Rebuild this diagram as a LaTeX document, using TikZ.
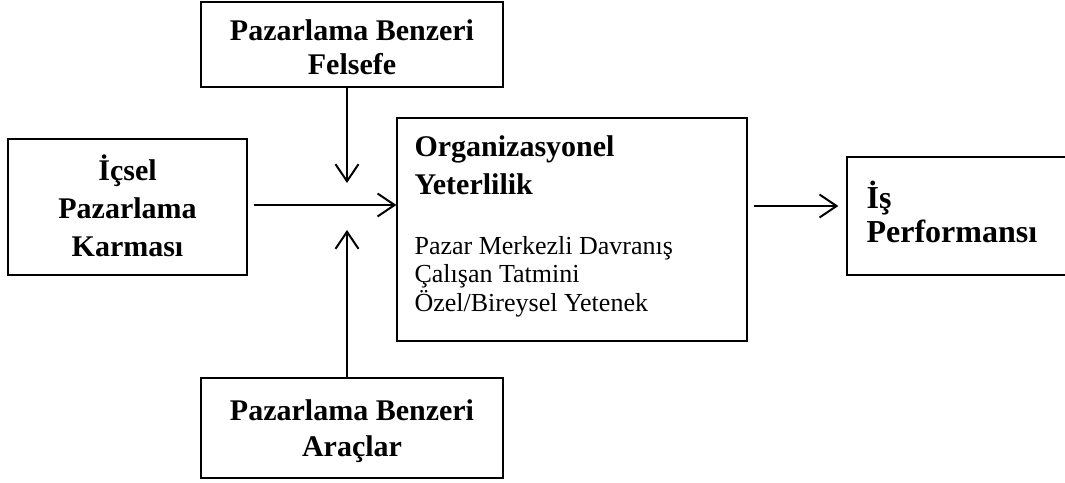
\documentclass[tikz,border=0pt]{standalone}
\usepackage{fontspec}
\setmainfont{Liberation Serif}
\usetikzlibrary{arrows.meta, positioning}

\tikzset{
  blok/.style={draw, line width=1.3pt, inner sep=0pt},
  baslik/.style={font=\fontsize{30}{38}\selectfont\bfseries, align=center, inner sep=0pt},
  ok/.style={line width=2pt, -{Straight Barb[length=17pt, width=23pt, line width=2pt]}}
}

\begin{document}
\begin{tikzpicture}[x=1pt, y=-1pt]
        \useasboundingbox (0,0) rectangle (1065,482);

        % Boxes
        \node[blok, minimum width=302pt, minimum height=85pt] (felsefe) at (352,44.5) {};
        \node[blok, minimum width=239pt, minimum height=136pt] (icsel) at (127.5,207) {};
        \node[blok, minimum width=350pt, minimum height=223pt] (yeterlilik) at (572,229.5) {};
        \node[blok, minimum width=302pt, minimum height=100pt] (araclar) at (352,428) {};
        \node[blok, minimum width=240pt, minimum height=118pt] (performans) at (967,216) {};

        % Box labels
        \node[baslik, font=\fontsize{30}{34}\selectfont\bfseries] (felsefeT) at ([yshift=-3pt]felsefe) {Pazarlama Benzeri\\Felsefe};
        \node[baslik] (icselT) at ([yshift=1pt]icsel) {İçsel\\Pazarlama\\Karması};
        \node[baslik, font=\fontsize{30}{36}\selectfont\bfseries] (araclarT) at ([yshift=-3pt]araclar) {Pazarlama Benzeri\\Araçlar};
        \node[baslik, align=left, anchor=base west] (yeterlilikT) at ([xshift=18pt, yshift=-77pt]yeterlilik.north west) {Organizasyonel\\Yeterlilik};
        \node[align=left, anchor=base west, inner sep=0pt, font=\fontsize{26}{28.5}\selectfont] (boyutlar) at ([xshift=18pt, yshift=-194pt]yeterlilik.north west) {Pazar Merkezli Davranış\\Çalışan Tatmini\\Özel/Bireysel Yetenek};
        \node[baslik, font=\fontsize{32}{34}\selectfont\bfseries, align=left, anchor=base west] (performansT) at ([xshift=20pt, yshift=-86pt]performans.north west) {İş\\Performansı};

        % Arrow ends
        \coordinate (ustBas) at (347,87);
        \coordinate (ustUc) at (347,183);
        \coordinate (altBas) at (347,378);
        \coordinate (altUc) at (347,230);

        % Arrows
        \draw[ok] (ustBas) -- (ustUc);
        \draw[ok] (altBas) -- (altUc);
        \draw[ok, shorten <=6pt] (icsel.east |- 0,205) -- (yeterlilik.west |- 0,205);
        \draw[ok, shorten <=6pt, shorten >=8pt] (yeterlilik.east |- 0,206) -- (performans.west |- 0,206);
\end{tikzpicture}
\end{document}
